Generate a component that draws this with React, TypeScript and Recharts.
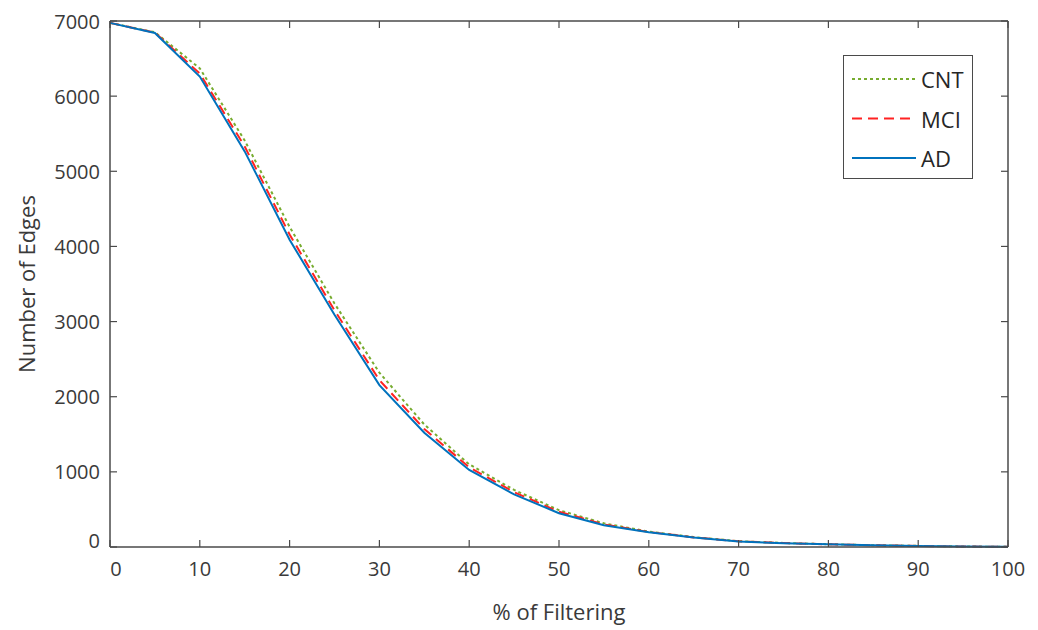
import { LineChart, Line, XAxis, YAxis, Label } from "recharts"

const percent = [0, 5, 10, 15, 20, 25, 30, 35, 40, 45, 50, 55, 60, 65, 70, 75, 80, 85, 90, 95, 100]
const cnt = [6975, 6850, 6370, 5410, 4260, 3240, 2320, 1630, 1100, 760, 490, 315, 205, 132, 78, 54, 37, 24, 15, 7, 2]
const mci = [6975, 6845, 6300, 5330, 4160, 3150, 2220, 1570, 1060, 730, 470, 300, 200, 128, 75, 52, 36, 23, 14, 6, 2]
const ad = [6975, 6840, 6260, 5265, 4090, 3090, 2155, 1520, 1025, 700, 450, 290, 195, 125, 72, 50, 35, 22, 14, 6, 2]

const xTicks = [0, 10, 20, 30, 40, 50, 60, 70, 80, 90, 100]
const yTicks = [0, 1000, 2000, 3000, 4000, 5000, 6000, 7000]

const series = [
  { key: "cnt", name: "CNT", color: "#77ac30", dash: "3 3" },
  { key: "mci", name: "MCI", color: "#ff2222", dash: "10 6" },
  { key: "ad", name: "AD", color: "#0072bd", dash: undefined },
]

const data = percent.map((p, i) => ({ pct: p, cnt: cnt[i], mci: mci[i], ad: ad[i] }))

const AXIS = "#4a4a4a"
const TEXT = "#3a3a3a"
const FONT = "'Open Sans', 'Noto Sans', sans-serif"
const TICK_LEN = 7

function BottomTick({ x, y, payload }: any) {
  const shift = payload.value === 0 ? 6 : 0
  return (
    <g>
      <line x1={x} x2={x} y1={y} y2={y - TICK_LEN} stroke={AXIS} strokeWidth={1.2} />
      <text x={x + shift} y={y + 21} textAnchor="middle" dominantBaseline="central" fill={TEXT} fontSize={20} fontFamily={FONT}>
        {payload.value}
      </text>
    </g>
  )
}

function TopTick({ x, y }: any) {
  return <line x1={x} x2={x} y1={y} y2={y + TICK_LEN} stroke={AXIS} strokeWidth={1.2} />
}

function LeftTick({ x, y, payload }: any) {
  const lift = payload.value === 0 ? -7 : 0
  return (
    <g>
      <line x1={x} x2={x + TICK_LEN} y1={y} y2={y} stroke={AXIS} strokeWidth={1.2} />
      <text x={x - 10} y={y + lift} textAnchor="end" dominantBaseline="central" fill={TEXT} fontSize={20} fontFamily={FONT}>
        {payload.value}
      </text>
    </g>
  )
}

function RightTick({ x, y }: any) {
  return <line x1={x} x2={x - TICK_LEN} y1={y} y2={y} stroke={AXIS} strokeWidth={1.2} />
}

function LegendBox() {
  return (
    <div
      style={{
        position: "absolute",
        left: 843,
        top: 55,
        border: `1.5px solid ${AXIS}`,
        width: 130,
        height: 124,
        background: "#fff",
        boxSizing: "border-box",
      }}
    >
      <svg width={127} height={121} style={{ display: "block" }}>
        {series.map((s, i) => (
          <g key={s.key}>
            <line x1={8} x2={72} y1={23 + i * 39.5} y2={23 + i * 39.5} stroke={s.color} strokeWidth={2} strokeDasharray={s.dash} />
            <text x={77} y={23 + i * 39.5} dominantBaseline="central" fill="#262626" fontSize={22} fontFamily={FONT}>
              {s.name}
            </text>
          </g>
        ))}
      </svg>
    </div>
  )
}

export default function App() {
  return (
    <div style={{ position: "absolute", left: 0, top: 0, width: 1038, height: 630, background: "#fff" }}>
      <LineChart width={1038} height={630} data={data} margin={{ top: 20, right: 29, bottom: 0, left: 0 }}>
        <XAxis
          dataKey="pct"
          type="number"
          domain={[0, 100]}
          ticks={xTicks}
          height={83}
          tickSize={0}
          tickMargin={0}
          tick={<BottomTick />}
          stroke={AXIS}
          strokeWidth={1.5}
          interval={0}
        >
          <Label
            content={({ viewBox }: any) => (
              <text x={viewBox.x + viewBox.width / 2} y={viewBox.y + 64} textAnchor="middle" dominantBaseline="central" fill={TEXT} fontSize={22} fontFamily={FONT}>
                % of Filtering
              </text>
            )}
          />
        </XAxis>
        <XAxis
          xAxisId="top"
          orientation="top"
          dataKey="pct"
          type="number"
          domain={[0, 100]}
          ticks={xTicks}
          height={1}
          tickSize={0}
          tickMargin={0}
          tick={<TopTick />}
          axisLine={{ stroke: AXIS, strokeWidth: 1.5 }}
          interval={0}
        />
        <YAxis
          type="number"
          domain={[0, 7000]}
          ticks={yTicks}
          width={110}
          tickSize={0}
          tickMargin={0}
          tick={<LeftTick />}
          stroke={AXIS}
          strokeWidth={1.5}
          interval={0}
        >
          <Label
            content={({ viewBox }: any) => {
              const cx = 26
              const cy = viewBox.y + viewBox.height / 2
              return (
                <text x={cx} y={cy} transform={`rotate(-90 ${cx} ${cy})`} textAnchor="middle" dominantBaseline="central" fill={TEXT} fontSize={22} fontFamily={FONT}>
                  Number of Edges
                </text>
              )
            }}
          />
        </YAxis>
        <YAxis
          yAxisId="right"
          orientation="right"
          type="number"
          domain={[0, 7000]}
          ticks={yTicks}
          width={1}
          tickSize={0}
          tickMargin={0}
          tick={<RightTick />}
          axisLine={{ stroke: AXIS, strokeWidth: 1.5 }}
          interval={0}
        />
        {/* invisible line so the mirrored top/right axes get drawn */}
        <Line
          xAxisId="top"
          yAxisId="right"
          dataKey="ad"
          stroke="transparent"
          dot={false}
          activeDot={false}
          legendType="none"
          isAnimationActive={false}
        />
        {series.map((s) => (
          <Line
            key={s.key}
            dataKey={s.key}
            name={s.name}
            type="linear"
            stroke={s.color}
            strokeWidth={2}
            strokeDasharray={s.dash}
            dot={false}
            isAnimationActive={false}
          />
        ))}
      </LineChart>
      <LegendBox />
    </div>
  )
}
